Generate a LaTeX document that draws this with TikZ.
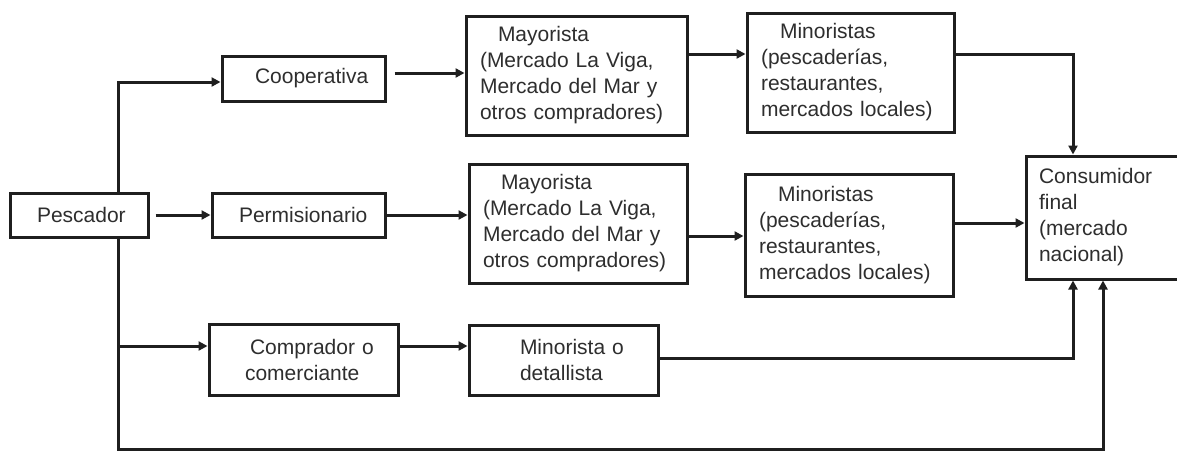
\documentclass[tikz,border=0pt]{standalone}
\usepackage{fontspec}
\setmainfont{Liberation Sans}
\usetikzlibrary{calc,arrows.meta}
\definecolor{linec}{gray}{0.12}
\definecolor{txtc}{gray}{0.18}
\begin{document}
\begin{tikzpicture}[x=1pt,y=-1pt,
  bx/.style n args={3}{draw=linec, line width=3pt, inner sep=0pt,
    font=\fontsize{21}{26}\selectfont, text=txtc, align=left,
    minimum width=#1pt, minimum height=#2pt, text width=#1pt,
    execute at begin node={\leftskip=#3pt\relax}},
  arr/.style={draw=linec, line width=3pt, -{Triangle[length=9pt,width=9pt]}}]
\useasboundingbox (0,0) rectangle (1177,451);
\fill[white] (0,0) rectangle (1177,451);

\node[bx={138}{44}{27}] (pes) at (79,215) {Pescador};
\node[bx={163}{45}{33}] (coop) at (303.5,78.5) {Cooperativa};
\node[bx={173}{44}{27}] (perm) at (298.5,215) {Permisionario};
\node[bx={189}{71}{36}] (comp) at (303.5,359.5) {\hspace*{5pt}Comprador o\\comerciante};
\node[bx={221}{119}{14}] (may1) at (576.5,75.5) {\hspace*{18pt}Mayorista\\(Mercado La Viga,\\Mercado del Mar y\\otros compradores)};
\node[bx={218}{119}{14}] (may2) at (578,223.5) {\hspace*{18pt}Mayorista\\(Mercado La Viga,\\Mercado del Mar y\\otros compradores)};
\node[bx={189}{70}{51}] (mind) at (563.5,360) {Minorista o\\detallista};
\node[bx={207}{119}{14}] (min1) at (850.5,72.5) {\hspace*{19pt}Minoristas\\(pescaderías,\\restaurantes,\\mercados locales)};
\node[bx={208}{122}{14}] (min2) at (849,235) {\hspace*{19pt}Minoristas\\(pescaderías,\\restaurantes,\\mercados locales)};
\node[bx={154}{123}{13}] (cons) at (1103,217.5) {Consumidor\\final\\(mercado\\nacional)};

\coordinate (bot) at (1103,449);

% from Pescador
\draw[arr] ([xshift=39pt]pes.north) |- ($(coop.west)+(0,3.5)$);
\draw[arr, shorten <=6pt] (pes.east) -- (perm.west);
\draw[arr] ([xshift=39pt]pes.south) |- ($(comp.west)+(0,-13.5)$);
\draw[arr] ([xshift=39pt]pes.south) |- (bot) -- (cons.south);

% second column
\draw[arr] ($(coop.east)+(8,-5.5)$) -- ($(may1.west)+(0,-2.5)$);
\draw[arr] (perm.east) -- ($(may2.west)+(0,-8.5)$);
\draw[arr] ($(comp.east)+(0,-13.5)$) -- ($(mind.west)+(0,-14)$);

% third column
\draw[arr] ($(may1.east)+(0,-21.5)$) -- ($(min1.west)+(0,-18.5)$);
\draw[arr] ($(may2.east)+(0,12.5)$) -- ($(min2.west)+(0,1)$);

% to consumer
\draw[arr] ($(min1.east)+(0,-18.5)$) -| ($(cons.north)+(-30,0)$);
\draw[arr] ($(min2.east)+(0,-12)$) -- ($(cons.west)+(0,5.5)$);
\draw[arr] ($(mind.east)+(0,-2)$) -| ($(cons.south)+(-30,0)$);
\end{tikzpicture}
\end{document}
